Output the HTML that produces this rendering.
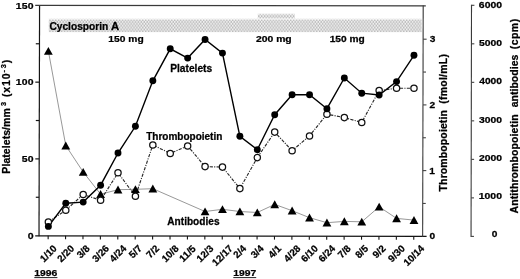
<!DOCTYPE html>
<html><head><meta charset="utf-8"><title>Figure</title>
<style>
html,body{margin:0;padding:0;background:#fff;}
body{width:520px;height:279px;overflow:hidden;}
svg{display:block;}
text{font-family:"Liberation Sans",sans-serif;font-weight:bold;fill:#000;stroke:#000;stroke-width:0.25px;stroke-linejoin:round;}
</style></head><body>
<svg width="520" height="279" viewBox="0 0 520 279">
<defs>
<pattern id="ht" width="2.9" height="3.8" patternUnits="userSpaceOnUse">
<rect width="2.9" height="3.8" fill="#f1f1f1"/>
<circle cx="0.72" cy="0.95" r="0.82" fill="#a2a2a2"/>
<circle cx="2.17" cy="2.85" r="0.82" fill="#a2a2a2"/>
</pattern>
<linearGradient id="fd" x1="0" y1="0" x2="0" y2="1"><stop offset="0" stop-color="#fff" stop-opacity="0.9"/><stop offset="1" stop-color="#fff" stop-opacity="0"/></linearGradient>
</defs>
<rect width="520" height="279" fill="#fff"/>

<rect x="48.8" y="18.6" width="372.8" height="13.5" fill="url(#ht)"/>
<rect x="257.8" y="13.6" width="37" height="6" fill="url(#ht)"/>
<rect x="48" y="18.4" width="376" height="2.2" fill="url(#fd)"/>
<rect x="257" y="13.4" width="39" height="2" fill="url(#fd)" opacity="0.7"/>
<g stroke="#151515" stroke-width="1.2" fill="none">
<path d="M39.57 4.9L39.02 236.2"/>
<path d="M35.2 235.80L426.6 236.30"/>
<path d="M35.2 5.39L425.8 5.89" stroke="#3a3a3a" stroke-width="1.1"/>
<path d="M423.20 5.4L422.65 236.8" stroke="#3a3a3a" stroke-width="1.1"/>
<path d="M471.50 4.8L471.05 236.9" stroke="#3a3a3a" stroke-width="1.1"/>
<path d="M35.8 197.27H39.11"/>
<path d="M35.3 158.89H39.20"/>
<path d="M35.8 120.52H39.29"/>
<path d="M35.3 82.15H39.39"/>
<path d="M35.8 43.77H39.48"/>
<path d="M422.73 203.45H425.73" stroke="#444" stroke-width="1.1"/>
<path d="M422.80 170.60H426.30" stroke="#444" stroke-width="1.1"/>
<path d="M422.88 137.75H425.88" stroke="#444" stroke-width="1.1"/>
<path d="M422.96 104.90H426.46" stroke="#444" stroke-width="1.1"/>
<path d="M423.04 72.05H426.04" stroke="#444" stroke-width="1.1"/>
<path d="M423.12 39.20H426.62" stroke="#444" stroke-width="1.1"/>
<path d="M471.05 236.40H473.95" stroke="#444" stroke-width="1.1"/>
<path d="M471.12 197.88H474.02" stroke="#444" stroke-width="1.1"/>
<path d="M471.20 159.37H474.10" stroke="#444" stroke-width="1.1"/>
<path d="M471.27 120.85H474.17" stroke="#444" stroke-width="1.1"/>
<path d="M471.35 82.33H474.25" stroke="#444" stroke-width="1.1"/>
<path d="M471.42 43.82H474.32" stroke="#444" stroke-width="1.1"/>
<path d="M471.50 5.30H474.40" stroke="#444" stroke-width="1.1"/>
<path d="M48.15 235.81V239.31" stroke-width="1.1"/>
<path d="M65.56 235.83V239.33" stroke-width="1.1"/>
<path d="M82.97 235.86V239.36" stroke-width="1.1"/>
<path d="M100.38 235.88V239.38" stroke-width="1.1"/>
<path d="M117.79 235.90V239.40" stroke-width="1.1"/>
<path d="M135.20 235.93V239.43" stroke-width="1.1"/>
<path d="M152.61 235.95V239.45" stroke-width="1.1"/>
<path d="M170.02 235.97V239.47" stroke-width="1.1"/>
<path d="M187.43 235.99V239.49" stroke-width="1.1"/>
<path d="M204.84 236.02V239.52" stroke-width="1.1"/>
<path d="M222.25 236.04V239.54" stroke-width="1.1"/>
<path d="M239.66 236.06V239.56" stroke-width="1.1"/>
<path d="M257.07 236.08V239.58" stroke-width="1.1"/>
<path d="M274.48 236.11V239.61" stroke-width="1.1"/>
<path d="M291.89 236.13V239.63" stroke-width="1.1"/>
<path d="M309.30 236.15V239.65" stroke-width="1.1"/>
<path d="M326.71 236.17V239.67" stroke-width="1.1"/>
<path d="M344.12 236.20V239.70" stroke-width="1.1"/>
<path d="M361.53 236.22V239.72" stroke-width="1.1"/>
<path d="M378.94 236.24V239.74" stroke-width="1.1"/>
<path d="M396.35 236.26V239.76" stroke-width="1.1"/>
<path d="M413.76 236.29V239.79" stroke-width="1.1"/>
</g>
<text transform="translate(49.39 29.70) scale(1.0211 1)" font-size="10">Cyclosporin</text>
<text transform="translate(111.06 29.70) scale(1.1364 1)" font-size="10">A</text>
<text transform="translate(108.35 41.90) scale(1.0794 1)" font-size="9.5">150 mg</text>
<text transform="translate(255.97 41.90) scale(1.0912 1)" font-size="9.5">200 mg</text>
<text transform="translate(329.66 41.90) scale(1.0698 1)" font-size="9.5">150 mg</text>
<text transform="translate(170.18 72.00) scale(1.0225 1)" font-size="10">Platelets</text>
<text transform="translate(146.20 140.10) scale(1.0013 1)" font-size="10">Thrombopoietin</text>
<text transform="translate(167.30 224.60) scale(1.0118 1)" font-size="10">Antibodies</text>
<text transform="translate(34.14 275.80) scale(1.0941 1)" font-size="9.5">1996</text>
<text transform="translate(233.15 275.80) scale(1.0896 1)" font-size="9.5">1997</text>
<text transform="translate(27.76 238.74) scale(1.1111 1)" font-size="9.5">0</text>
<text transform="translate(21.67 161.99) scale(1.1000 1)" font-size="9.5" style="letter-spacing:0.282px">50</text>
<text transform="translate(15.84 85.25) scale(1.1000 1)" font-size="9.5" style="letter-spacing:0.141px">100</text>
<text transform="translate(15.84 8.50) scale(1.1000 1)" font-size="9.5" style="letter-spacing:0.141px">150</text>
<text transform="translate(429.47 239.40) scale(1.0700 1)" font-size="9.5">0</text>
<text transform="translate(429.26 173.70) scale(1.0700 1)" font-size="9.5">1</text>
<text transform="translate(429.58 108.00) scale(1.0700 1)" font-size="9.5">2</text>
<text transform="translate(429.69 42.30) scale(1.0700 1)" font-size="9.5">3</text>
<text transform="translate(491.77 237.40) scale(1.0700 1)" font-size="9.5">0</text>
<text transform="translate(478.64 199.17) scale(1.1000 1)" font-size="9.5" style="letter-spacing:0.058px">1000</text>
<text transform="translate(478.97 160.94) scale(1.0931 1)" font-size="9.5">2000</text>
<text transform="translate(479.08 122.71) scale(1.0878 1)" font-size="9.5">3000</text>
<text transform="translate(479.19 84.48) scale(1.0825 1)" font-size="9.5">4000</text>
<text transform="translate(478.97 46.25) scale(1.0931 1)" font-size="9.5">5000</text>
<text transform="translate(478.86 8.02) scale(1.0985 1)" font-size="9.5">6000</text>
<text transform="translate(9.80 173.64) rotate(-90) scale(1.0500 1)" font-size="10" style="letter-spacing:0.059px">Platelets/mm</text>
<text transform="translate(5.70 106.11) rotate(-90) scale(1.0400 1)" font-size="7">3</text>
<text transform="translate(9.80 97.03) rotate(-90) scale(1.0500 1)" font-size="10" style="letter-spacing:0.840px">(x10</text>
<text transform="translate(6.30 72.61) rotate(-90) scale(1.0500 1)" font-size="7" style="letter-spacing:1.729px">-3</text>
<text transform="translate(9.80 63.20) rotate(-90) scale(1.0400 1)" font-size="10">)</text>
<text transform="translate(446.70 191.41) rotate(-90) scale(1.0500 1)" font-size="10" style="letter-spacing:0.105px">Thrombopoietin</text>
<text transform="translate(446.70 103.73) rotate(-90) scale(1.0500 1)" font-size="10" style="letter-spacing:0.223px">(fmol/mL)</text>
<text transform="translate(517.70 213.51) rotate(-90) scale(1.0500 1)" font-size="10" style="letter-spacing:0.096px">Antithrombopoietin</text>
<text transform="translate(517.70 107.22) rotate(-90) scale(1.0500 1)" font-size="10" style="letter-spacing:0.004px">antibodies</text>
<text transform="translate(517.70 49.32) rotate(-90) scale(1.0500 1)" font-size="10" style="letter-spacing:0.450px">(cpm)</text>
<path d="M34.3 277.6H57.4M233.3 277.6H256.2" stroke="#222" stroke-width="1"/>
<g font-size="9.8" text-anchor="middle">
<text transform="translate(48.15 253.41) rotate(-45)" y="3.51">1/10</text>
<text transform="translate(65.56 253.41) rotate(-45)" y="3.51">2/20</text>
<text transform="translate(82.97 251.48) rotate(-45)" y="3.51">3/8</text>
<text transform="translate(100.38 253.41) rotate(-45)" y="3.51">3/26</text>
<text transform="translate(117.79 253.41) rotate(-45)" y="3.51">4/24</text>
<text transform="translate(135.20 251.48) rotate(-45)" y="3.51">5/7</text>
<text transform="translate(152.61 251.48) rotate(-45)" y="3.51">7/2</text>
<text transform="translate(170.02 253.41) rotate(-45)" y="3.51">10/8</text>
<text transform="translate(187.43 253.41) rotate(-45)" y="3.51">11/5</text>
<text transform="translate(204.84 253.41) rotate(-45)" y="3.51">12/3</text>
<text transform="translate(222.25 255.34) rotate(-45)" y="3.51">12/17</text>
<text transform="translate(239.66 251.48) rotate(-45)" y="3.51">2/4</text>
<text transform="translate(257.07 251.48) rotate(-45)" y="3.51">3/4</text>
<text transform="translate(274.48 251.48) rotate(-45)" y="3.51">4/1</text>
<text transform="translate(291.89 253.41) rotate(-45)" y="3.51">4/28</text>
<text transform="translate(309.30 253.41) rotate(-45)" y="3.51">6/10</text>
<text transform="translate(326.71 253.41) rotate(-45)" y="3.51">6/24</text>
<text transform="translate(344.12 251.48) rotate(-45)" y="3.51">7/8</text>
<text transform="translate(361.53 251.48) rotate(-45)" y="3.51">8/5</text>
<text transform="translate(378.94 251.48) rotate(-45)" y="3.51">9/2</text>
<text transform="translate(396.35 253.41) rotate(-45)" y="3.51">9/30</text>
<text transform="translate(413.76 255.34) rotate(-45)" y="3.51">10/14</text>
</g>
<polyline points="48.37,51.00 65.78,145.60 83.19,172.00 100.60,194.20 118.01,189.70 135.42,189.30 152.83,188.70 205.06,211.50 222.47,209.30 239.88,211.50 257.29,212.50 274.70,204.40 292.11,210.70 309.52,217.70 326.93,222.70 344.34,221.40 361.75,221.80 379.16,206.80 396.57,218.40 413.98,220.10" fill="none" stroke="#858585" stroke-width="0.85"/>
<polyline points="48.37,221.90 65.78,210.20 83.19,194.50 100.60,200.20 118.01,172.80 135.42,196.20 152.83,145.00 170.24,153.40 187.65,145.90 205.06,166.60 222.47,167.10 239.88,188.60 257.29,157.60 274.70,132.10 292.11,150.70 309.52,135.90 326.93,114.20 344.34,117.60 361.75,122.40 379.16,90.60 396.57,88.20 413.98,88.20" fill="none" stroke="#2a2a2a" stroke-width="1.15" stroke-dasharray="3.2 1.3 1.1 1.3"/>
<polyline points="48.37,226.40 65.78,203.30 83.19,202.10 100.60,185.20 118.01,153.00 135.42,126.30 152.83,80.80 170.24,48.80 187.65,58.10 205.06,39.50 222.47,53.10 239.88,136.30 257.29,149.70 274.70,114.70 292.11,94.80 309.52,94.80 326.93,108.70 344.34,78.00 361.75,93.20 379.16,95.00 396.57,81.60 413.98,55.30" fill="none" stroke="#000" stroke-width="1.4"/>
<path d="M48.37 46.90L52.77 54.80H43.97Z" fill="#000"/>
<path d="M65.78 141.50L70.18 149.40H61.38Z" fill="#000"/>
<path d="M83.19 167.90L87.59 175.80H78.79Z" fill="#000"/>
<path d="M100.60 190.10L105.00 198.00H96.20Z" fill="#000"/>
<path d="M118.01 185.60L122.41 193.50H113.61Z" fill="#000"/>
<path d="M135.42 185.20L139.82 193.10H131.02Z" fill="#000"/>
<path d="M152.83 184.60L157.23 192.50H148.43Z" fill="#000"/>
<path d="M205.06 207.40L209.46 215.30H200.66Z" fill="#000"/>
<path d="M222.47 205.20L226.87 213.10H218.07Z" fill="#000"/>
<path d="M239.88 207.40L244.28 215.30H235.48Z" fill="#000"/>
<path d="M257.29 208.40L261.69 216.30H252.89Z" fill="#000"/>
<path d="M274.70 200.30L279.10 208.20H270.30Z" fill="#000"/>
<path d="M292.11 206.60L296.51 214.50H287.71Z" fill="#000"/>
<path d="M309.52 213.60L313.92 221.50H305.12Z" fill="#000"/>
<path d="M326.93 218.60L331.33 226.50H322.53Z" fill="#000"/>
<path d="M344.34 217.30L348.74 225.20H339.94Z" fill="#000"/>
<path d="M361.75 217.70L366.15 225.60H357.35Z" fill="#000"/>
<path d="M379.16 202.70L383.56 210.60H374.76Z" fill="#000"/>
<path d="M396.57 214.30L400.97 222.20H392.17Z" fill="#000"/>
<path d="M413.98 216.00L418.38 223.90H409.58Z" fill="#000"/>
<circle cx="48.37" cy="221.90" r="3.15" fill="#fff" stroke="#111" stroke-width="1.25"/>
<circle cx="65.78" cy="210.20" r="3.15" fill="#fff" stroke="#111" stroke-width="1.25"/>
<circle cx="83.19" cy="194.50" r="3.15" fill="#fff" stroke="#111" stroke-width="1.25"/>
<circle cx="100.60" cy="200.20" r="3.15" fill="#fff" stroke="#111" stroke-width="1.25"/>
<circle cx="118.01" cy="172.80" r="3.15" fill="#fff" stroke="#111" stroke-width="1.25"/>
<circle cx="135.42" cy="196.20" r="3.15" fill="#fff" stroke="#111" stroke-width="1.25"/>
<circle cx="152.83" cy="145.00" r="3.15" fill="#fff" stroke="#111" stroke-width="1.25"/>
<circle cx="170.24" cy="153.40" r="3.15" fill="#fff" stroke="#111" stroke-width="1.25"/>
<circle cx="187.65" cy="145.90" r="3.15" fill="#fff" stroke="#111" stroke-width="1.25"/>
<circle cx="205.06" cy="166.60" r="3.15" fill="#fff" stroke="#111" stroke-width="1.25"/>
<circle cx="222.47" cy="167.10" r="3.15" fill="#fff" stroke="#111" stroke-width="1.25"/>
<circle cx="239.88" cy="188.60" r="3.15" fill="#fff" stroke="#111" stroke-width="1.25"/>
<circle cx="257.29" cy="157.60" r="3.15" fill="#fff" stroke="#111" stroke-width="1.25"/>
<circle cx="274.70" cy="132.10" r="3.15" fill="#fff" stroke="#111" stroke-width="1.25"/>
<circle cx="292.11" cy="150.70" r="3.15" fill="#fff" stroke="#111" stroke-width="1.25"/>
<circle cx="309.52" cy="135.90" r="3.15" fill="#fff" stroke="#111" stroke-width="1.25"/>
<circle cx="326.93" cy="114.20" r="3.15" fill="#fff" stroke="#111" stroke-width="1.25"/>
<circle cx="344.34" cy="117.60" r="3.15" fill="#fff" stroke="#111" stroke-width="1.25"/>
<circle cx="361.75" cy="122.40" r="3.15" fill="#fff" stroke="#111" stroke-width="1.25"/>
<circle cx="379.16" cy="90.60" r="3.15" fill="#fff" stroke="#111" stroke-width="1.25"/>
<circle cx="396.57" cy="88.20" r="3.15" fill="#fff" stroke="#111" stroke-width="1.25"/>
<circle cx="413.98" cy="88.20" r="3.15" fill="#fff" stroke="#111" stroke-width="1.25"/>
<circle cx="48.37" cy="226.40" r="3.45" fill="#000"/>
<circle cx="65.78" cy="203.30" r="3.45" fill="#000"/>
<circle cx="83.19" cy="202.10" r="3.45" fill="#000"/>
<circle cx="100.60" cy="185.20" r="3.45" fill="#000"/>
<circle cx="118.01" cy="153.00" r="3.45" fill="#000"/>
<circle cx="135.42" cy="126.30" r="3.45" fill="#000"/>
<circle cx="152.83" cy="80.80" r="3.45" fill="#000"/>
<circle cx="170.24" cy="48.80" r="3.45" fill="#000"/>
<circle cx="187.65" cy="58.10" r="3.45" fill="#000"/>
<circle cx="205.06" cy="39.50" r="3.45" fill="#000"/>
<circle cx="222.47" cy="53.10" r="3.45" fill="#000"/>
<circle cx="239.88" cy="136.30" r="3.45" fill="#000"/>
<circle cx="257.29" cy="149.70" r="3.45" fill="#000"/>
<circle cx="274.70" cy="114.70" r="3.45" fill="#000"/>
<circle cx="292.11" cy="94.80" r="3.45" fill="#000"/>
<circle cx="309.52" cy="94.80" r="3.45" fill="#000"/>
<circle cx="326.93" cy="108.70" r="3.45" fill="#000"/>
<circle cx="344.34" cy="78.00" r="3.45" fill="#000"/>
<circle cx="361.75" cy="93.20" r="3.45" fill="#000"/>
<circle cx="379.16" cy="95.00" r="3.45" fill="#000"/>
<circle cx="396.57" cy="81.60" r="3.45" fill="#000"/>
<circle cx="413.98" cy="55.30" r="3.45" fill="#000"/>
</svg></body></html>
